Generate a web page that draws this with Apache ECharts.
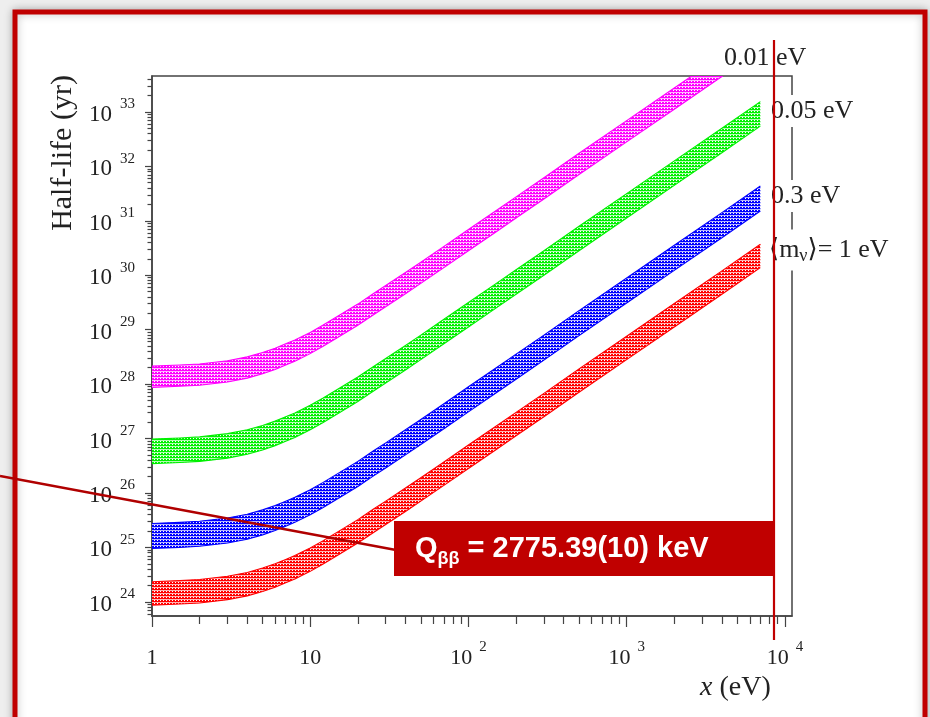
<!DOCTYPE html>
<html>
<head>
<meta charset="utf-8">
<title>Half-life vs x</title>
<script src="https://cdn.jsdelivr.net/npm/echarts@6/dist/echarts.min.js"></script>
<style>
  html, body { margin: 0; padding: 0; background: #eeeeee; }
  #chart { width: 930px; height: 717px; }
</style>
</head>
<body>
<div id="chart"></div>
<script>
// x in eV; half-lives are stored as log10(T / yr)
const xValues = [1, 1.5, 2, 3, 4, 5, 6, 7, 8, 10, 12, 15, 20, 25, 30, 40, 50, 70, 100, 150, 200, 300, 500, 1000, 2000, 4000, 7000];

const magentaLow  = [27.94, 27.96, 27.98, 28.04, 28.11, 28.19, 28.27, 28.35, 28.42, 28.56, 28.69, 28.86, 29.08, 29.27, 29.42, 29.66, 29.85, 30.14, 30.45, 30.80, 31.05, 31.40, 31.85, 32.45, 33.05, 33.65, 34.14];
const magentaHigh = [28.33, 28.35, 28.37, 28.43, 28.50, 28.58, 28.66, 28.74, 28.81, 28.95, 29.08, 29.25, 29.47, 29.66, 29.81, 30.05, 30.24, 30.53, 30.84, 31.19, 31.44, 31.79, 32.24, 32.84, 33.44, 34.04, 34.53];
const greenLow    = [26.54, 26.56, 26.58, 26.64, 26.71, 26.79, 26.87, 26.95, 27.02, 27.16, 27.29, 27.46, 27.68, 27.87, 28.02, 28.26, 28.45, 28.74, 29.05, 29.40, 29.65, 30.00, 30.45, 31.05, 31.65, 32.25, 32.74];
const greenHigh   = [26.99, 27.01, 27.03, 27.09, 27.16, 27.24, 27.32, 27.40, 27.47, 27.61, 27.74, 27.91, 28.13, 28.32, 28.47, 28.71, 28.90, 29.19, 29.50, 29.85, 30.10, 30.45, 30.90, 31.50, 32.10, 32.70, 33.19];
const blueLow     = [24.98, 25.00, 25.02, 25.08, 25.15, 25.23, 25.31, 25.39, 25.46, 25.60, 25.73, 25.90, 26.12, 26.31, 26.46, 26.70, 26.89, 27.18, 27.49, 27.84, 28.09, 28.44, 28.89, 29.49, 30.09, 30.69, 31.18];
const blueHigh    = [25.44, 25.46, 25.48, 25.54, 25.61, 25.69, 25.77, 25.85, 25.92, 26.06, 26.19, 26.36, 26.58, 26.77, 26.92, 27.16, 27.35, 27.64, 27.95, 28.30, 28.55, 28.90, 29.35, 29.95, 30.55, 31.15, 31.64];
const redLow      = [23.94, 23.96, 23.98, 24.04, 24.11, 24.19, 24.27, 24.35, 24.42, 24.56, 24.69, 24.86, 25.08, 25.27, 25.42, 25.66, 25.85, 26.14, 26.45, 26.80, 27.05, 27.40, 27.85, 28.45, 29.05, 29.65, 30.14];
const redHigh     = [24.37, 24.39, 24.41, 24.47, 24.54, 24.62, 24.70, 24.78, 24.85, 24.99, 25.12, 25.29, 25.51, 25.70, 25.85, 26.09, 26.28, 26.57, 26.88, 27.23, 27.48, 27.83, 28.28, 28.88, 29.48, 30.08, 30.57];

const massLabels = ['0.01 eV', '0.05 eV', '0.3 eV', '1 eV'];
const xDecades = [0, 1, 2, 3, 4];                       // 1 ... 10^4
const yDecades = [24, 25, 26, 27, 28, 29, 30, 31, 32, 33];
const xRange = [0, 4.045];
const yRange = [23.74, 33.66];

const serif = '"Liberation Serif", "DejaVu Serif", serif';

// minor ticks at 2..9 in every decade
const minorTicks = (from, to, range) => {
  const out = [];
  for (let n = from; n <= to; n++) {
    for (let k = 2; k <= 9; k++) {
      const v = n + Math.log10(k);
      if (v > range[0] && v < range[1]) out.push(v);
    }
  }
  return out;
};
const xMinor = minorTicks(0, 4, xRange);
const yMinor = minorTicks(23, 33, yRange);

// stippled fill similar to the dense hatching of the bands
const hatch = (color) => {
  const c = document.createElement('canvas');
  c.width = 3; c.height = 3;
  const g = c.getContext('2d');
  g.fillStyle = color; g.fillRect(0, 0, 3, 3);
  g.fillStyle = 'rgba(255,255,255,0.7)'; g.fillRect(0, 2, 3, 1);
  g.fillStyle = '#fff'; g.fillRect(1, 0, 1, 1);
  return c;
};

const bands = [
  { name: massLabels[0], color: '#ff00ff', low: magentaLow, high: magentaHigh },
  { name: massLabels[1], color: '#00f000', low: greenLow, high: greenHigh },
  { name: massLabels[2], color: '#0000ff', low: blueLow, high: blueHigh },
  { name: massLabels[3], color: '#ff0000', low: redLow, high: redHigh }
];

const series = bands.map((b) => {
  const items = xValues.map((x, j) => [Math.log10(x), b.low[j], b.high[j]]);
  const fill = { image: hatch(b.color), repeat: 'repeat' };
  return {
    type: 'custom', name: b.name, clip: true, z: 3,
    encode: { x: 0, y: [1, 2] },
    data: items,
    renderItem: (params, api) => {
      if (params.dataIndex !== 0) return null;
      const top = items.map((d) => api.coord([d[0], d[2]]));
      const bottom = items.map((d) => api.coord([d[0], d[1]]));
      const edge = { stroke: b.color, lineWidth: 1.1, fill: null };
      return {
        type: 'group',
        children: [
          { type: 'polygon', shape: { points: top.concat(bottom.slice().reverse()) }, style: { fill: fill } },
          { type: 'polyline', shape: { points: top }, style: edge },
          { type: 'polyline', shape: { points: bottom }, style: edge }
        ]
      };
    }
  };
});

const powerLabel = (v) => {
  if (v === 0) return '{b|1}';
  if (v === 1) return '{b|10}';
  return '{b|10}{s|' + v + '}';
};
const powerRich = (size, gap) => ({
  b: { fontFamily: serif, fontSize: size, lineHeight: 36, color: '#222' },
  s: { fontFamily: serif, fontSize: 15, lineHeight: 12, verticalAlign: 'top', color: '#222', padding: [0, 0, 0, gap] }
});
const axisColor = '#444';

const chart = echarts.init(document.getElementById('chart'));
chart.setOption({
  animation: false,
  backgroundColor: '#eeeeee',
  grid: { left: 152, top: 76, width: 640, height: 540, show: true, borderColor: axisColor, borderWidth: 1.5 },
  xAxis: [
    {
      type: 'value', min: xRange[0], max: xRange[1], position: 'bottom',
      axisLine: { onZero: false, lineStyle: { color: axisColor, width: 1.5 } },
      axisTick: { customValues: xDecades, length: 11, lineStyle: { color: axisColor, width: 1.2 } },
      axisLabel: { customValues: xDecades, formatter: powerLabel, rich: powerRich(22, 7), margin: 24 },
      splitLine: { show: false }
    },
    {
      type: 'value', min: xRange[0], max: xRange[1], position: 'top', offset: -540,
      axisLine: { show: false, onZero: false },
      axisTick: { inside: true, customValues: xMinor, length: 8, lineStyle: { color: axisColor, width: 1.2 } },
      axisLabel: { show: false },
      splitLine: { show: false }
    }
  ],
  yAxis: [
    {
      type: 'value', min: yRange[0], max: yRange[1], position: 'left',
      axisLine: { onZero: false, lineStyle: { color: axisColor, width: 1.5 } },
      axisTick: { customValues: yDecades, length: 7, lineStyle: { color: axisColor, width: 1.2 } },
      axisLabel: { customValues: yDecades, formatter: powerLabel, rich: powerRich(23, 8), margin: 17, padding: [6, 0, 0, 0] },
      splitLine: { show: false }
    },
    {
      type: 'value', min: yRange[0], max: yRange[1], position: 'right', offset: -640,
      axisLine: { show: false, onZero: false },
      axisTick: { inside: true, customValues: yMinor, length: 4.5, lineStyle: { color: axisColor, width: 1.2 } },
      axisLabel: { show: false },
      splitLine: { show: false }
    }
  ],
  series: series,
  graphic: [
    // slide frame
    {
      type: 'rect', z: -10, silent: true,
      shape: { x: 15, y: 12, width: 910, height: 720 },
      style: { fill: '#fff', stroke: '#c00000', lineWidth: 5, shadowBlur: 8, shadowColor: 'rgba(0,0,0,0.25)' }
    },
    {
      type: 'text', x: 63, y: 153, rotation: Math.PI / 2, z: 10,
      style: { text: 'Half-life (yr)', font: '30px ' + serif, fill: '#222', align: 'center', verticalAlign: 'middle' }
    },
    {
      type: 'text', x: 700, y: 688, z: 10,
      style: {
        text: '{i|x} (eV)', font: '28px ' + serif, fill: '#222', verticalAlign: 'middle',
        rich: { i: { fontStyle: 'italic', fontFamily: serif, fontSize: 28, fill: '#222' } }
      }
    },
    {
      type: 'text', x: 722, y: 58, z: 10,
      style: { text: massLabels[0], font: '26px ' + serif, fill: '#222', verticalAlign: 'middle', backgroundColor: '#fff', padding: [2, 2] }
    },
    {
      type: 'text', x: 769, y: 111, z: 10,
      style: { text: massLabels[1], font: '26px ' + serif, fill: '#222', verticalAlign: 'middle', backgroundColor: '#fff', padding: [3, 2] }
    },
    {
      type: 'text', x: 769, y: 196, z: 10,
      style: { text: massLabels[2], font: '26px ' + serif, fill: '#222', verticalAlign: 'middle', backgroundColor: '#fff', padding: [3, 2] }
    },
    {
      type: 'text', x: 767, y: 250, z: 10,
      style: {
        text: '\u27e8m{v|\u03bd}\u27e9= ' + massLabels[3], font: '26px ' + serif, fill: '#222',
        lineHeight: 31, verticalAlign: 'middle', backgroundColor: '#fff', padding: [5, 2],
        rich: { v: { fontFamily: serif, fontSize: 18, verticalAlign: 'bottom', lineHeight: 14, fill: '#222' } }
      }
    },
    // red overlay annotation
    {
      type: 'line', z: 20, silent: true,
      shape: { x1: 774, y1: 40, x2: 774, y2: 640 },
      style: { stroke: '#c00000', lineWidth: 2.2 }
    },
    {
      type: 'line', z: 20, silent: true,
      shape: { x1: 0, y1: 476, x2: 396, y2: 550 },
      style: { stroke: '#b00000', lineWidth: 2.5 }
    },
    {
      type: 'rect', z: 21, silent: true,
      shape: { x: 394, y: 521, width: 381, height: 55 },
      style: { fill: '#c00000' }
    },
    {
      type: 'text', x: 415, y: 549, z: 22,
      style: {
        text: 'Q{s|\u03b2\u03b2} = 2775.39(10) keV',
        font: 'bold 29px "Liberation Sans", Arial, sans-serif', fill: '#fff', lineHeight: 38, verticalAlign: 'middle',
        rich: { s: { fontFamily: '"Liberation Sans", Arial, sans-serif', fontWeight: 'bold', fontSize: 18, lineHeight: 18, verticalAlign: 'bottom', fill: '#fff' } }
      }
    }
  ]
});
window.addEventListener('resize', () => chart.resize());
</script>
</body>
</html>
